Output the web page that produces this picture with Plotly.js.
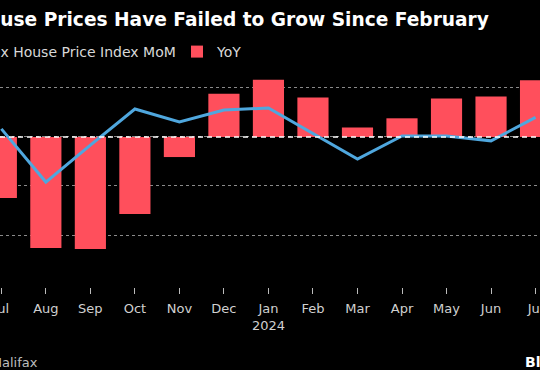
<!DOCTYPE html>
<html>
<head>
<meta charset="utf-8">
<script src="https://cdn.plot.ly/plotly-3.0.1.min.js"></script>
<style>html,body{margin:0;padding:0;background:#000;}#chart{width:540px;height:370px;}</style>
</head>
<body>
<div id="chart"></div>
<script>
var months = ['2023-07','2023-08','2023-09','2023-10','2023-11','2023-12','2024-01','2024-02','2024-03','2024-04','2024-05','2024-06','2024-07'];
var tickLabels = ['Jul','Aug','Sep','Oct','Nov','Dec','Jan<br>2024','Feb','Mar','Apr','May','Jun','Jul'];
var yoyValues = [-2.49, -4.53, -4.57, -3.14, -0.82, 1.76, 2.33, 1.61, 0.39, 0.76, 1.57, 1.65, 2.31];
var momValues = [0.33, -1.84, -0.33, 1.14, 0.61, 1.10, 1.18, 0.14, -0.90, 0.04, 0.04, -0.16, 0.80];
var gridVals = [-4, -2, 0, 2];

var W = 540, H = 370;
function px(p){ return p / W; }

var traces = [
  {
    type: 'bar', x: months, y: yoyValues, name: 'YoY',
    marker: {color: '#ff4f5c'}, width: 0.7, legend: 'legend2'
  },
  {
    type: 'scatter', mode: 'lines', x: months, y: momValues,
    name: 'Halifax House Price Index MoM',
    line: {color: '#4fa7de', width: 3}, legend: 'legend'
  }
];

var layout = {
  width: W, height: H,
  paper_bgcolor: '#000', plot_bgcolor: '#000',
  margin: {l: 0, r: 0, t: 70, b: 83, autoexpand: false},
  font: {family: 'DejaVu Sans', color: '#d0d0d0', size: 13},
  showlegend: true,
  legend: {
    orientation: 'h', x: px(-80), xanchor: 'left', y: 1.083, yanchor: 'middle',
    font: {size: 14, color: '#d8d8d8'}, bgcolor: 'rgba(0,0,0,0)', borderwidth: 0
  },
  legend2: {
    orientation: 'h', x: px(177), xanchor: 'left', y: 1.083, yanchor: 'middle',
    font: {size: 14, color: '#d8d8d8'}, bgcolor: 'rgba(0,0,0,0)', borderwidth: 0
  },
  xaxis: {
    type: 'category', range: [-0.03, 12.1],
    tickvals: months, ticktext: tickLabels,
    ticks: 'outside', ticklen: 6, tickcolor: '#bbbbbb', tickwidth: 1,
    ticklabelstandoff: 3,
    showgrid: false, showline: false, zeroline: false,
    tickfont: {size: 13, color: '#d0d0d0'}, fixedrange: true
  },
  yaxis: {
    range: [-6.12, 2.73], tickvals: gridVals, showticklabels: false,
    showgrid: true, gridcolor: '#8a8a8a', griddash: 'dot', gridwidth: 1,
    zeroline: false, showline: false, fixedrange: true
  },
  shapes: [{
    type: 'line', xref: 'paper', x0: 0, x1: 1, yref: 'y', y0: 0, y1: 0,
    line: {color: '#ffffff', width: 1.5, dash: '5px,4px'}, layer: 'above'
  }],
  annotations: [
    {
      text: '<b>UK House Prices Have Failed to Grow Since February</b>',
      xref: 'paper', yref: 'paper', x: px(-66), xanchor: 'left',
      y: 1 + (70 - 19) / 217, yanchor: 'middle', showarrow: false,
      font: {family: 'DejaVu Sans', size: 18.6, color: '#ffffff'}
    },
    {
      text: 'Source: Halifax',
      xref: 'paper', yref: 'paper', x: px(-63), xanchor: 'left',
      y: -(362 - 287) / 217, yanchor: 'middle', showarrow: false,
      font: {family: 'DejaVu Sans', size: 13, color: '#bdbdbd'}
    },
    {
      text: '<b>Bloomberg</b>',
      xref: 'paper', yref: 'paper', x: px(523), xanchor: 'left',
      y: -(362 - 287) / 217, yanchor: 'middle', showarrow: false,
      font: {family: 'DejaVu Sans', size: 14, color: '#ffffff'}
    }
  ]
};

Plotly.newPlot('chart', traces, layout, {displayModeBar: false, staticPlot: true});
</script>
</body>
</html>
